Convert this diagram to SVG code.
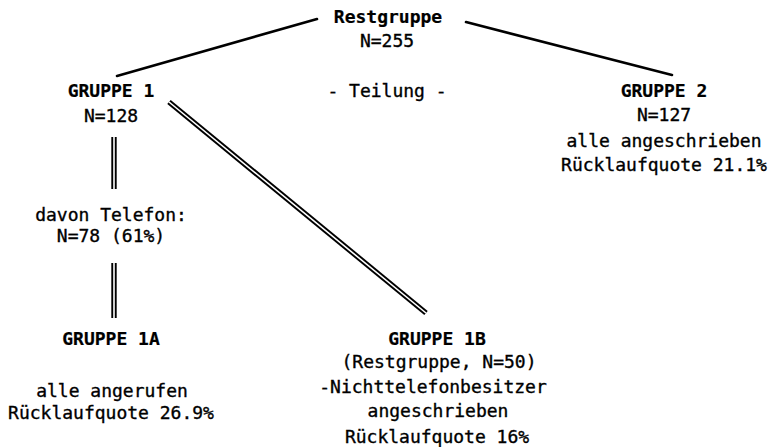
<svg xmlns="http://www.w3.org/2000/svg" width="771" height="447" viewBox="0 0 771 447">
<style>
text{font-family:"DejaVu Sans Mono","Liberation Mono",monospace;font-size:18px;fill:#000;stroke:#000;stroke-width:0.35;text-anchor:middle}
.b{font-weight:bold;stroke-width:0.2}
.s{stroke:#000;stroke-width:2.6;stroke-linecap:round;fill:none}
.d1{stroke:#000;stroke-width:5.4;fill:none}
.d2{stroke:#fff;stroke-width:1.6;fill:none}
</style>
<rect width="771" height="447" fill="#fff"/>
<g id="connectors">
<line class="s" x1="317" y1="19" x2="117" y2="76"/>
<line class="s" x1="466" y1="22" x2="672" y2="75"/>
<line class="d1" x1="169" y1="102" x2="426" y2="313"/>
<line class="d2" x1="169" y1="102" x2="426" y2="313"/>
<line class="d1" x1="114" y1="137" x2="114" y2="189"/>
<line class="d2" x1="114" y1="137" x2="114" y2="189"/>
<line class="d1" x1="114" y1="263" x2="114" y2="318"/>
<line class="d2" x1="114" y1="263" x2="114" y2="318"/>
</g>
<g id="restgruppe">
<text class="b" x="388" y="23">Restgruppe</text>
<text x="387" y="47">N=255</text>
</g>
<g id="teilung">
<text x="387" y="97">- Teilung -</text>
</g>
<g id="gruppe1">
<text class="b" x="111" y="97">GRUPPE 1</text>
<text x="111" y="122">N=128</text>
</g>
<g id="gruppe2">
<text class="b" x="664" y="97">GRUPPE 2</text>
<text x="664" y="121">N=127</text>
<text x="664" y="147">alle angeschrieben</text>
<text x="664" y="171">Rücklaufquote 21.1%</text>
</g>
<g id="telefon">
<text x="111" y="221">davon Telefon:</text>
<text x="111" y="242">N=78 (61%)</text>
</g>
<g id="gruppe1a">
<text class="b" x="111" y="345">GRUPPE 1A</text>
<text x="112" y="397">alle angerufen</text>
<text x="111" y="419">Rücklaufquote 26.9%</text>
</g>
<g id="gruppe1b">
<text class="b" x="437" y="345">GRUPPE 1B</text>
<text x="439" y="368">(Restgruppe, N=50)</text>
<text x="433" y="393">-Nichttelefonbesitzer</text>
<text x="438" y="417">angeschrieben</text>
<text x="437" y="443">Rücklaufquote 16%</text>
</g>
</svg>
